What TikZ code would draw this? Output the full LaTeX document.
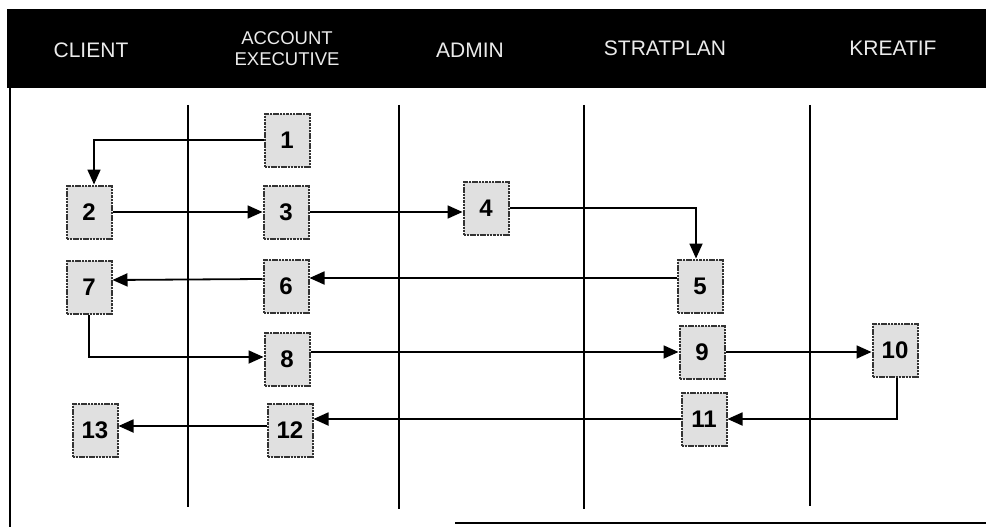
\documentclass[tikz,border=0pt]{standalone}
\usepackage{fontspec}
\setmainfont{Liberation Sans}
\usetikzlibrary{arrows.meta}
\tikzset{
  numbox/.style={draw=black!80, fill=black!12, line width=2pt, dash pattern=on 2.5pt off 0.8pt,
    minimum width=45pt, minimum height=53pt, inner sep=0pt,
    font=\fontsize{24}{26}\selectfont\bfseries},
  lane/.style={line width=2.6pt, black},
  conn/.style={line width=1.8pt, black, -{Triangle[length=15pt,width=13pt]}},
  head/.style={text=white!92!black, font=\fontsize{21}{24}\selectfont, align=center, inner sep=0pt}
}
\begin{document}
\begin{tikzpicture}[x=1pt,y=-1pt]
\useasboundingbox (0,0) rectangle (986,527);
\fill[white] (0,0) rectangle (986,527);
% header band
\fill[black] (7,9) rectangle (986,88);
\node[head] (hclient) at (91,50) {CLIENT};
\node[head, font=\fontsize{18.5}{21}\selectfont] (hae) at (287,49) {ACCOUNT\\EXECUTIVE};
\node[head] (hadmin) at (470,50) {ADMIN};
\node[head] (hstrat) at (665,48) {STRATPLAN};
\node[head] (hkreatif) at (893,48) {KREATIF};
% frame
\draw[lane] (10,88) -- (10,527);
\draw[lane] (455,523) -- (986,523);
% lane separators
\draw[lane] (188,105) -- (188,507);
\draw[lane] (399,105) -- (399,509);
\draw[lane] (584,105) -- (584,509);
\draw[lane] (810,105) -- (810,506);
% step boxes
\node[numbox] (n1) at (287,140) {1};
\node[numbox] (n2) at (89,212) {2};
\node[numbox] (n3) at (286,212) {3};
\node[numbox] (n4) at (486,208) {4};
\node[numbox] (n5) at (700,286) {5};
\node[numbox] (n6) at (286,286) {6};
\node[numbox] (n7) at (89,287) {7};
\node[numbox] (n8) at (287,359) {8};
\node[numbox] (n9) at (702,352) {9};
\node[numbox] (n10) at (895,350) {10};
\node[numbox] (n11) at (704,419) {11};
\node[numbox] (n12) at (290,430) {12};
\node[numbox] (n13) at (95,430) {13};
% connectors
\draw[conn] (n1.west) -| ([xshift=5pt]n2.north);
\draw[conn] (n2.east) -- (n3.west);
\draw[conn] (n3.east) -- (n4.west |- n3.east);
\draw[conn] (n4.east) -| ([xshift=-4pt]n5.north);
\draw[conn] ([yshift=8pt]n5.west) -- ([yshift=8pt]n6.east);
\draw[conn] ([yshift=7pt]n6.west) -- ([yshift=7pt]n7.east);
\draw[conn] (n7.south) |- ([yshift=2pt]n8.west);
\draw[conn] (n8.east |- n9.west) -- (n9.west);
\draw[conn] (n9.east) -- (n10.west |- n9.east);
\draw[conn] ([xshift=2pt]n10.south) |- (n11.east);
\draw[conn] (n11.west) -- (n12.east |- n11.west);
\draw[conn] ([yshift=4pt]n12.west) -- ([yshift=4pt]n13.east);
\end{tikzpicture}
\end{document}
